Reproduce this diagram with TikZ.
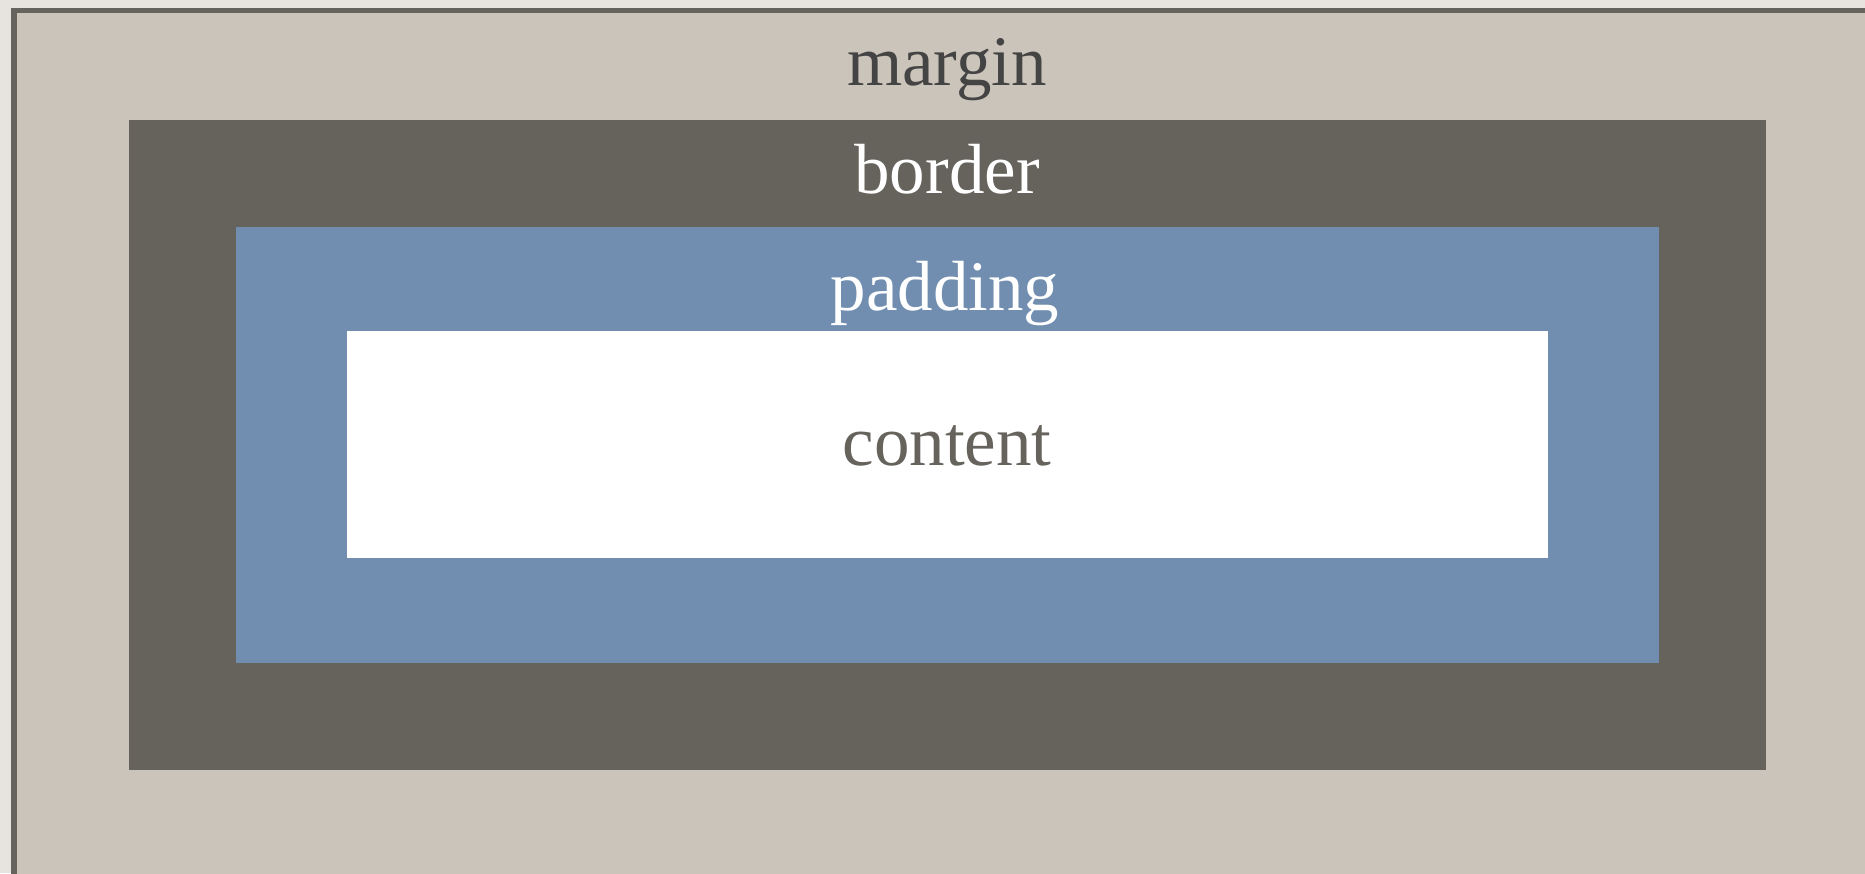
\documentclass[tikz,border=0pt]{standalone}
\usepackage{fontspec}
\setmainfont{Liberation Serif}
\definecolor{pagebg}{HTML}{E7E4DF}
\definecolor{margincol}{HTML}{CBC4BA}
\definecolor{bordercol}{HTML}{66635D}
\definecolor{paddingcol}{HTML}{718EB0}
\definecolor{margintext}{HTML}{444444}
\tikzset{lbl/.style={anchor=base, inner sep=0pt, font=\fontsize{71}{85}\selectfont}}
\begin{document}
\begin{tikzpicture}[x=1pt, y=-1pt]
                \useasboundingbox (0,0) rectangle (1865,873);
                \clip (0,0) rectangle (1865,873);
                \fill[pagebg] (0,0) rectangle (1865,873);
                \filldraw[fill=margincol, draw=bordercol, line width=5.5pt] (14,10.5) rectangle (1890,900);
                \fill[bordercol] (128.5,119.5) rectangle (1765.5,769.5);
                \fill[paddingcol] (235.7,226.7) rectangle (1659,663.3);
                \fill[white] (347.3,331) rectangle (1547.7,557.7);
                \node[lbl, text=margintext] (margin) at (947,85) {margin};
                \node[lbl, text=white] (border) at (947,193) {border};
                \node[lbl, text=white] (padding) at (945,310) {padding};
                \node[lbl, text=bordercol] (content) at (947,465) {content};
            \end{tikzpicture}
\end{document}
